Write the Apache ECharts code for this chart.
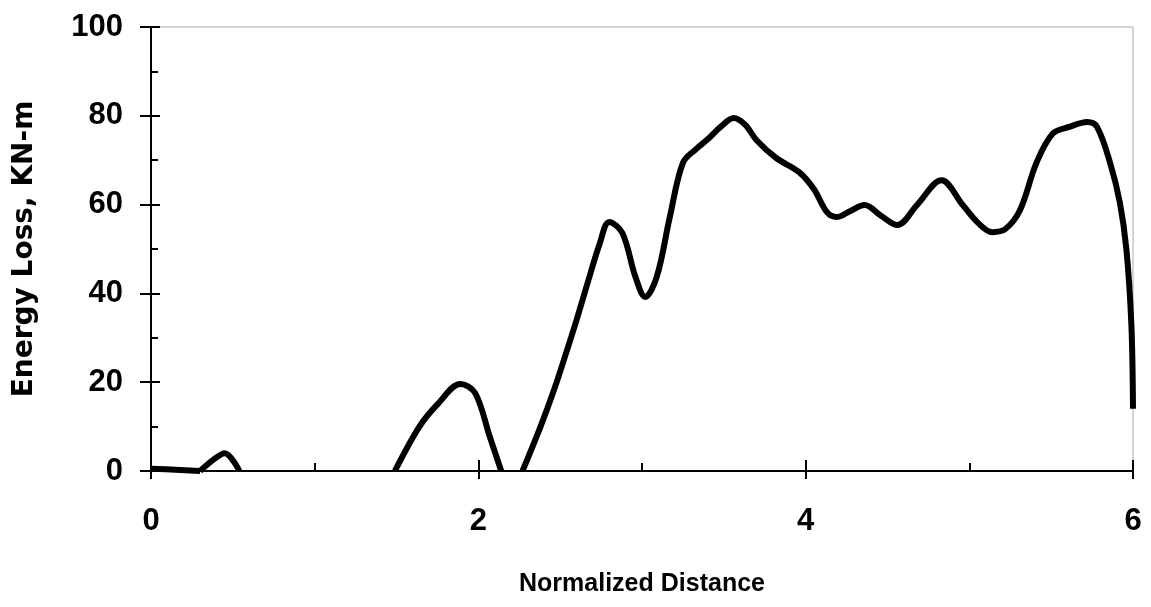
<!DOCTYPE html>
<html>
<head>
<meta charset="utf-8">
<script src="https://cdn.jsdelivr.net/npm/echarts@6/dist/echarts.min.js"></script>
<style>html,body{margin:0;padding:0;background:#fff}#c{width:1151px;height:607px}</style>
</head>
<body>
<div id="c"></div>
<script>
// Normalized distance (x) and energy loss (y, KN-m); null marks a break in the curve
var distance = [0, 0.15, 0.3, null,
  0.3, 0.38, 0.45, 0.54, null,
  1.49, 1.64, 1.75, 1.89, 1.98, 2.07, 2.14, null,
  2.27, 2.38, 2.46, 2.54, 2.60, 2.66, 2.74, 2.80, 2.88, 2.96, 3.02, 3.09, 3.17, 3.25, 3.33, 3.41, 3.48, 3.56, 3.63, 3.70, 3.82, 3.96, 4.05, 4.13, 4.19, 4.27, 4.36, 4.46, 4.56, 4.68, 4.83, 4.96, 5.05, 5.14, 5.22, 5.31, 5.41, 5.51, 5.61, 5.72, 5.78, 5.86, 5.92, 5.96, 5.99, 6.0];
var energy = [0.5, 0.3, 0, null,
  0, 2.5, 4, 0, null,
  0, 10, 15, 19.6, 17.6, 7.7, 0, null,
  0, 10, 18, 27, 34, 41.4, 51, 56.1, 53.6, 43.7, 39.2, 43.7, 57.2, 69.4, 72.5, 75, 77.5, 79.5, 78, 74.5, 70.5, 67.3, 63.5, 58.3, 57.2, 58.5, 59.9, 57.5, 55.4, 59.9, 65.5, 59.9, 56, 53.8, 54.5, 58.8, 69.4, 76, 77.5, 78.6, 77.5, 69.4, 60.4, 49.8, 33, 14];
var xTicks = [0, 2, 4, 6];
var yTicks = [0, 20, 40, 60, 80, 100];

var seriesData = distance.map(function (d, i) {
  return (d === null || energy[i] === null) ? ['-', '-'] : [d, energy[i]];
});

var chart = echarts.init(document.getElementById('c'));
var font = '"Liberation Sans", Arial, sans-serif';
chart.setOption({
  animation: false,
  backgroundColor: '#fff',
  grid: { left: 151, right: 18, top: 27, bottom: 136, show: true, borderColor: '#aaa', borderWidth: 1, backgroundColor: 'transparent' },
  xAxis: [{
    type: 'value', min: xTicks[0], max: xTicks[xTicks.length - 1], interval: 2,
    name: 'Normalized Distance', nameLocation: 'middle', nameGap: 101,
    nameTextStyle: { fontFamily: font, fontWeight: 'bold', fontSize: 25, color: '#000' },
    axisLine: { show: true, onZero: false, lineStyle: { color: '#000', width: 2 } },
    axisTick: { show: true, length: 8, lineStyle: { color: '#000', width: 2 } },
    axisLabel: { margin: 35, fontFamily: font, fontWeight: 'bold', fontSize: 31, color: '#000' },
    splitLine: { show: false }
  }, {
    type: 'value', min: xTicks[0], max: xTicks[xTicks.length - 1], interval: 2, position: 'bottom',
    axisLine: { show: false },
    axisTick: { show: true, inside: true, length: 11, lineStyle: { color: '#000', width: 2 } },
    minorTick: { show: true, splitNumber: 2, length: 8, lineStyle: { color: '#000', width: 2 } },
    axisLabel: { show: false }, splitLine: { show: false }
  }],
  yAxis: [{
    type: 'value', min: yTicks[0], max: yTicks[yTicks.length - 1], interval: 20, position: 'left',
    name: 'Energy Loss, KN-m', nameLocation: 'middle', nameGap: 112, nameRotate: 90,
    nameTextStyle: { fontFamily: '"DejaVu Sans", sans-serif', fontWeight: 'bold', fontSize: 28, color: '#000' },
    axisLine: { show: true, onZero: false, lineStyle: { color: '#000', width: 2 } },
    axisTick: { show: true, length: 11, lineStyle: { color: '#000', width: 2 } },
    axisLabel: { margin: 28, fontFamily: font, fontWeight: 'bold', fontSize: 31, color: '#000' },
    splitLine: { show: false }
  }, {
    type: 'value', min: yTicks[0], max: yTicks[yTicks.length - 1], interval: 20, position: 'left',
    axisLine: { show: false },
    axisTick: { show: true, inside: true, length: 9, lineStyle: { color: '#000', width: 2 } },
    minorTick: { show: true, splitNumber: 2, length: 7, lineStyle: { color: '#000', width: 2 } },
    axisLabel: { show: false }, splitLine: { show: false }
  }],
  series: [{
    type: 'line', xAxisIndex: 0, yAxisIndex: 0,
    data: seriesData, showSymbol: false, smooth: 0.35, connectNulls: false, clip: true,
    lineStyle: { color: '#000', width: 6 }
  }]
});
</script>
</body>
</html>
